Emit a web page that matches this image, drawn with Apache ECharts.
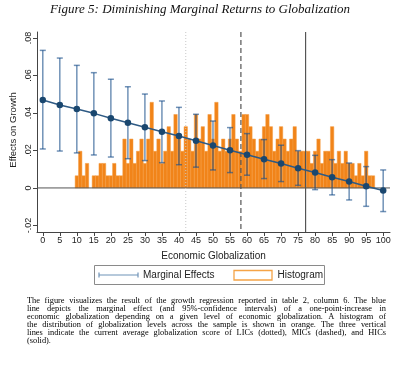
<!DOCTYPE html>
<html><head><meta charset="utf-8">
<script src="https://cdn.jsdelivr.net/npm/echarts@6/dist/echarts.min.js"></script>
<style>
html,body{margin:0;padding:0;background:#fff;}
#wrap{position:relative;width:400px;height:372px;overflow:hidden;background:#fff;}
#chart{position:absolute;left:0;top:0;width:400px;height:372px;}
#caption{position:absolute;left:27px;top:297px;width:359px;font-family:'Liberation Serif','Times New Roman',serif;font-size:8.4px;line-height:8px;color:#000;}
#caption div{text-align:justify;text-align-last:justify;}
#caption div.last{text-align:left;text-align-last:left;}
</style></head>
<body>
<div id="wrap">
<div id="chart"></div>
<div id="caption">
<div>The figure visualizes the result of the growth regression reported in table 2, column 6. The blue</div>
<div>line depicts the marginal effect (and 95%-confidence intervals) of a one-point-increase in</div>
<div>economic globalization depending on a given level of economic globalization. A histogram of</div>
<div>the distribution of globalization levels across the sample is shown in orange. The three vertical</div>
<div>lines indicate the current average globalization score of LICs (dotted), MICs (dashed), and HICs</div>
<div class="last">(solid).</div>
</div>
</div>
<script>
// ---- data ----
var titleText = 'Figure 5: Diminishing Marginal Returns to Globalization';
var xTitle = 'Economic Globalization';
var yTitle = 'Effects on Growth';
var xTicks = [0,5,10,15,20,25,30,35,40,45,50,55,60,65,70,75,80,85,90,95,100];
var yTicks = [-0.02,0,0.02,0.04,0.06,0.08];
var globLevels = [0,5,10,15,20,25,30,35,40,45,50,55,60,65,70,75,80,85,90,95,100];
var marginalEffect = [0.0469,0.0443,0.0421,0.0398,0.0372,0.0348,0.0324,0.0300,0.0277,0.0252,0.0226,0.0201,0.0177,0.0153,0.0130,0.0105,0.0082,0.0057,0.0034,0.0009,-0.0014];
var ciUpper = [0.0734,0.0693,0.0654,0.0615,0.0580,0.0540,0.0501,0.0464,0.0430,0.0393,0.0357,0.0322,0.0290,0.0258,0.0228,0.0199,0.0174,0.0151,0.0133,0.0114,0.0096];
var ciLower = [0.0208,0.0197,0.0187,0.0176,0.0165,0.0156,0.0146,0.0135,0.0124,0.0111,0.0096,0.0082,0.0068,0.0050,0.0034,0.0014,-0.0009,-0.0037,-0.0064,-0.0098,-0.0126];
var histBins = [10,11,12,13,14,15,16,17,18,19,20,21,22,23,24,25,26,27,28,29,30,31,32,33,34,35,36,37,38,39,40,41,42,43,44,45,46,47,48,49,50,51,52,53,54,55,56,57,58,59,60,61,62,63,64,65,66,67,68,69,70,71,72,73,74,75,76,77,78,79,80,81,82,83,84,85,86,87,88,89,90,91,92,93,94,95,96,97];
var histHeights = [
.0065,.0196,.0065,.0131,0,.0065,.0065,.0131,.0131,.0065,
.0065,.0131,.0065,.0065,.0261,.0131,.0261,.0131,.0196,.0261,
.0131,.0261,.0457,.0196,.0261,.0131,.0196,.0327,.0196,.0392,
.0261,.0196,.0327,.0261,.0196,.0392,.0261,.0327,.0196,.0392,
.0261,.0457,.0196,.0261,.0196,.0261,.0392,.0261,.0196,.0392,
.0392,.0327,.0261,.0196,.0261,.0327,.0392,.0327,.0196,.0261,
.0327,.0261,.0196,.0261,.0327,.0196,.0196,.0196,.0196,.0131,
.0196,.0261,.0131,.0196,.0196,.0327,.0131,.0196,.0131,.0196,
.0131,.0131,.0065,.0131,.0065,.0196,.0065,.0065];
var histBinWidth = 1;
var refLineX = [42, 58.2, 77.2];   // LICs (dotted), MICs (dashed), HICs (solid)
var legendLabels = ['Marginal Effects', 'Histogram'];

// ---- styles ----
var NAVY = '#1a476f';
var CI_COLOR = '#1a4f8a';
var ORANGE = '#f18419';
var ORANGE_EDGE = '#f59d42';
var SANS = "'Liberation Sans', Arial, Helvetica, sans-serif";
var refStyles = [
  {stroke:'#c8c8c8', lineWidth:1, lineDash:[1,2]},
  {stroke:'#555555', lineWidth:1.2, lineDash:[5,3]},
  {stroke:'#555555', lineWidth:1.2, lineDash:null}
];

var chart = echarts.init(document.getElementById('chart'), null, {renderer:'canvas'});

function fmtY(v){
  if (Math.abs(v) < 1e-9) return '0';
  var s = Math.abs(v).toFixed(2).replace(/^0/, '');
  return (v < 0 ? '-' : '') + s;
}

var option = {
  animation:false,
  backgroundColor:'#fff',
  grid:{left:37, top:32, width:353, height:200, containLabel:false},
  xAxis:{
    type:'value', min:-1.7, max:102,
    axisLine:{show:true, onZero:false, lineStyle:{color:'#444', width:1}},
    axisTick:{show:true, customValues:xTicks, length:4, lineStyle:{color:'#444'}},
    axisLabel:{show:true, customValues:xTicks, fontSize:9, margin:4, color:'#222', fontFamily:SANS},
    splitLine:{show:false}
  },
  yAxis:{
    type:'value', min:-0.0235, max:0.0832,
    axisLine:{show:true, onZero:false, lineStyle:{color:'#444', width:1}},
    axisTick:{show:true, customValues:yTicks, length:4, lineStyle:{color:'#444'}},
    axisLabel:{show:true, customValues:yTicks, rotate:90, fontSize:9, margin:4, color:'#222', fontFamily:SANS, formatter:fmtY},
    splitLine:{show:false}
  },
  graphic:[
    {type:'text', left:'center', top:3, style:{text:titleText, font:"italic 13px 'Liberation Serif', 'Times New Roman', serif", fill:'#111'}},
    {type:'text', x:213.5, y:256, style:{text:xTitle, font:'10px '+SANS, fill:'#222', align:'center', verticalAlign:'middle'}},
    {type:'text', x:13, y:130, rotation:Math.PI/2, style:{text:yTitle, font:'9.5px '+SANS, fill:'#222', align:'center', verticalAlign:'middle'}},
    // legend
    {type:'rect', shape:{x:94.5, y:265.5, width:230, height:19}, style:{fill:'#fff', stroke:'#8a8a8a', lineWidth:1}},
    {type:'line', shape:{x1:99, y1:275, x2:138, y2:275}, style:{stroke:'#6f93b8', lineWidth:1.2}},
    {type:'line', shape:{x1:99, y1:272.5, x2:99, y2:277.5}, style:{stroke:'#6f93b8', lineWidth:1.2}},
    {type:'line', shape:{x1:138, y1:272.5, x2:138, y2:277.5}, style:{stroke:'#6f93b8', lineWidth:1.2}},
    {type:'text', x:143, y:275.5, style:{text:legendLabels[0], font:'10px '+SANS, fill:'#222', verticalAlign:'middle'}},
    {type:'rect', shape:{x:234, y:270.5, width:38, height:9.5}, style:{fill:'#fff', stroke:'#f5a447', lineWidth:1.3}},
    {type:'text', x:277.5, y:275.5, style:{text:legendLabels[1], font:'10px '+SANS, fill:'#222', verticalAlign:'middle'}}
  ],
  series:[
    {
      name:legendLabels[1], type:'custom', z:1,
      data: histBins.map(function(b,i){return [b, histHeights[i]];}),
      renderItem:function(params, api){
        var x = api.value(0), h = api.value(1);
        if (!h) return null;
        var p0 = api.coord([x - histBinWidth/2, h]);
        var p1 = api.coord([x + histBinWidth/2, 0]);
        return {type:'rect', shape:{x:p0[0], y:p0[1], width:p1[0]-p0[0], height:p1[1]-p0[1]},
                style:{fill:ORANGE, stroke:ORANGE_EDGE, lineWidth:0.5}};
      }
    },
    {
      name:'zero', type:'custom', z:2,
      data:[[0]],
      renderItem:function(params, api){
        var cs = params.coordSys;
        var p = api.coord([0, api.value(0)]);
        return {type:'line', shape:{x1:cs.x, y1:p[1], x2:cs.x+cs.width, y2:p[1]}, style:{stroke:'#555', lineWidth:1}};
      }
    },
    {
      name:'refLines', type:'custom', z:3,
      data: refLineX.map(function(v){return [v];}),
      renderItem:function(params, api){
        var cs = params.coordSys;
        var p = api.coord([api.value(0), 0]);
        var st = refStyles[params.dataIndex];
        return {type:'line', shape:{x1:p[0], y1:cs.y, x2:p[0], y2:cs.y+cs.height}, style:st};
      }
    },
    {
      name:'CI', type:'custom', z:4,
      data: globLevels.map(function(g,i){return [g, ciLower[i], ciUpper[i]];}),
      renderItem:function(params, api){
        var x = api.value(0);
        var pl = api.coord([x, api.value(1)]), ph = api.coord([x, api.value(2)]);
        var cap = 3;
        var st = {stroke:CI_COLOR, lineWidth:1.5, opacity:0.62};
        return {type:'group', children:[
          {type:'line', shape:{x1:pl[0], y1:pl[1], x2:ph[0], y2:ph[1]}, style:st},
          {type:'line', shape:{x1:ph[0]-cap, y1:ph[1], x2:ph[0]+cap, y2:ph[1]}, style:st},
          {type:'line', shape:{x1:pl[0]-cap, y1:pl[1], x2:pl[0]+cap, y2:pl[1]}, style:st}
        ]};
      }
    },
    {
      name:legendLabels[0], type:'line', z:5,
      data: globLevels.map(function(g,i){return [g, marginalEffect[i]];}),
      symbol:'circle', symbolSize:6.5,
      itemStyle:{color:NAVY},
      lineStyle:{color:'#2e5a84', width:1.5}
    }
  ]
};
chart.setOption(option);
</script>
</body></html>
